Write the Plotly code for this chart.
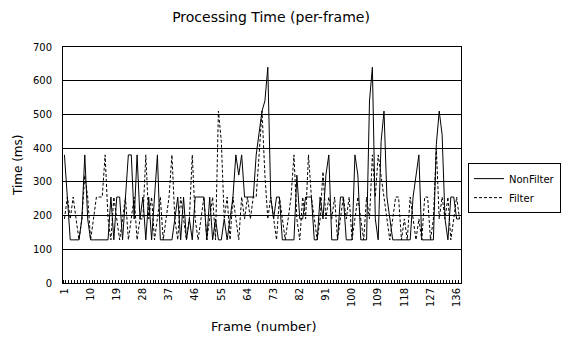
import plotly.graph_objects as go

frames = list(range(1, 138))

non_filter = [
    380, 255, 128, 128, 128, 128, 190, 380, 190, 128,
    128, 128, 128, 128, 128, 128, 255, 128, 255, 255,
    128, 255, 380, 380, 190, 380, 190, 255, 128, 255,
    128, 255, 380, 128, 128, 128, 128, 128, 190, 255,
    128, 255, 128, 190, 128, 255, 255, 255, 255, 128,
    255, 128, 190, 128, 128, 190, 128, 190, 255, 380,
    320, 380, 255, 255, 255, 255, 380, 450, 510, 540,
    640, 255, 190, 255, 255, 128, 128, 128, 128, 128,
    320, 190, 190, 255, 255, 255, 128, 128, 255, 190,
    320, 380, 128, 128, 128, 255, 255, 128, 128, 128,
    380, 320, 128, 128, 128, 540, 640, 190, 128, 420,
    510, 255, 190, 128, 128, 128, 128, 128, 128, 128,
    255, 320, 380, 128, 128, 128, 128, 128, 410, 510,
    440, 190, 128, 255, 255, 190, 190,
]

filt = [
    190, 255, 190, 255, 190, 128, 190, 320, 255, 128,
    190, 255, 255, 255, 380, 190, 128, 255, 190, 128,
    190, 255, 128, 190, 255, 128, 190, 190, 380, 190,
    255, 128, 190, 255, 128, 190, 255, 380, 190, 128,
    255, 190, 128, 190, 380, 190, 128, 190, 255, 128,
    190, 255, 128, 510, 420, 190, 255, 128, 255, 190,
    128, 255, 190, 255, 190, 255, 255, 380, 510, 320,
    190, 255, 190, 128, 255, 190, 128, 190, 255, 380,
    190, 128, 255, 190, 380, 255, 190, 128, 190, 330,
    190, 255, 190, 255, 128, 190, 255, 190, 255, 128,
    190, 255, 190, 128, 255, 190, 380, 255, 380, 320,
    255, 190, 128, 190, 255, 255, 128, 190, 128, 255,
    190, 128, 190, 128, 255, 255, 128, 190, 400, 190,
    255, 190, 255, 128, 190, 255, 190,
]

tick_labels = ["1", "10", "19", "28", "37", "46", "55", "64", "73", "82",
               "91", "100", "109", "118", "127", "136"]
y_ticks = [0, 100, 200, 300, 400, 500, 600, 700]

FONT = "DejaVu Sans"

fig = go.Figure()
fig.add_trace(go.Scatter(x=frames, y=non_filter, mode="lines", name="NonFilter",
                         line=dict(color="black", width=1)))
fig.add_trace(go.Scatter(x=frames, y=filt, mode="lines", name="Filter",
                         line=dict(color="black", width=1, dash="3px,2px")))

fig.update_layout(
    width=573, height=341,
    margin=dict(l=63, r=112, t=47, b=58),
    paper_bgcolor="white", plot_bgcolor="white",
    font=dict(family=FONT, size=10, color="black"),
    title=dict(text="Processing Time (per-frame)", xref="container", x=0.473,
               y=0.95, yanchor="middle", xanchor="center",
               font=dict(family=FONT, size=14, color="black")),
    showlegend=True,
    legend=dict(x=1.0176, y=0.508, xanchor="left", yanchor="top",
                bordercolor="black", borderwidth=1, bgcolor="white",
                font=dict(family=FONT, size=10, color="black"),
                itemwidth=30, tracegroupgap=0),
    xaxis=dict(range=[0.5, 137.5], tickmode="array",
               tickvals=[int(t) for t in tick_labels], ticktext=tick_labels,
               tickangle=-90, ticks="", showgrid=False, zeroline=False,
               showline=True, linecolor="black", linewidth=1, mirror=True,
               tickfont=dict(family=FONT, size=10),
               minor=dict(tickmode="linear", tick0=0.5, dtick=1, ticks="inside",
                          ticklen=3, tickcolor="black", tickwidth=1, showgrid=False)),
    yaxis=dict(range=[0, 700], tickmode="array", tickvals=y_ticks,
               ticks="", showgrid=True, gridcolor="black", gridwidth=1,
               zeroline=False, showline=True, linecolor="black", linewidth=1,
               mirror=True, tickfont=dict(family=FONT, size=10), ticklabelstandoff=8),
    annotations=[
        dict(text="Time (ms)", xref="paper", yref="paper", x=-0.113, y=0.5,
             textangle=-90, showarrow=False, font=dict(family=FONT, size=12),
             xanchor="center", yanchor="middle"),
        dict(text="Frame (number)", xref="paper", yref="paper", x=0.505, y=-0.186,
             showarrow=False, font=dict(family=FONT, size=13),
             xanchor="center", yanchor="middle"),
    ],
)

fig.write_html("out.html")
